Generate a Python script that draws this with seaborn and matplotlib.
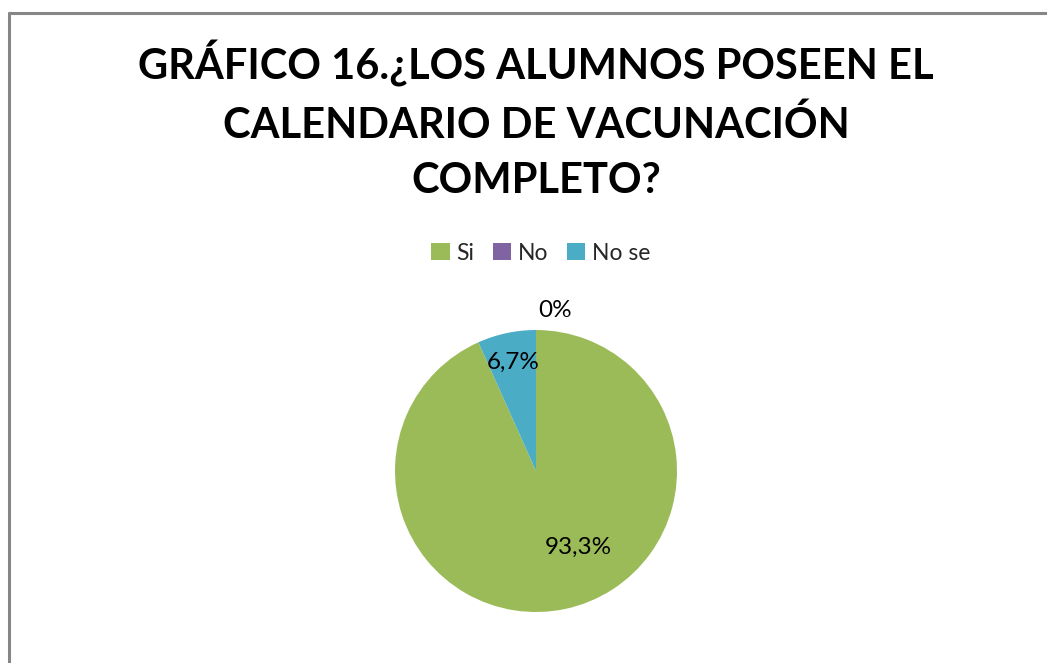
import numpy as np
import matplotlib
matplotlib.use("Agg")
import matplotlib.pyplot as plt
import seaborn as sns
from matplotlib.lines import Line2D
from matplotlib.patches import Patch

# Data
categories = ["Si", "No", "No se"]
values = [93.3, 0.0, 6.7]
value_labels = ["93,3%", "0%", "6,7%"]
title_text = "GRÁFICO 16.¿LOS ALUMNOS POSEEN EL\nCALENDARIO DE VACUNACIÓN\nCOMPLETO?"

colors = ["#9BBB59", "#8064A2", "#4BACC6"]
label_dist = [0.62, 1.15, 0.79]
label_turn = [17, -31, 0]  # degrees, Excel's best-fit nudge

sns.set_theme(style="white")
plt.rcParams['font.family'] = ['Lato', 'DejaVu Sans']

fig = plt.figure(figsize=(10.47, 6.63), dpi=100)
W, H = 1047, 663

# chart frame (only top / left visible in the crop)
fig.add_artist(Line2D([9/W, 9/W], [0, 1 - 13/H], transform=fig.transFigure,
                      color="#868686", lw=2.2))
fig.add_artist(Line2D([9/W, 1], [1 - 13/H, 1 - 13/H], transform=fig.transFigure,
                      color="#868686", lw=2.2))

fig.text(536/W, 1 - 120/H, title_text, ha="center", va="center",
         fontsize=30, fontweight="bold", linespacing=1.56, color="black")

r = 141
ax = fig.add_axes([(536 - r)/W, (663 - 471 - r)/H, 2*r/W, 2*r/H])
wedges, _ = ax.pie(values, colors=colors, startangle=90, counterclock=False,
                   wedgeprops=dict(linewidth=0))
ax.set_xlim(-1, 1)
ax.set_ylim(-1, 1)
ax.set_aspect("equal")
ax.axis("off")

for w, lab, d, t in zip(wedges, value_labels, label_dist, label_turn):
    ang = np.deg2rad((w.theta1 + w.theta2) / 2 + t)
    ax.text(d*np.cos(ang), d*np.sin(ang), lab, ha="center", va="center",
            fontsize=17.5, color="black", clip_on=False)

handles = [Patch(facecolor=c, edgecolor="none") for c in colors]
fig.legend(handles, categories, loc="center", bbox_to_anchor=(541/W, 1 - 253/H),
           ncol=3, frameon=False, fontsize=16.5, handlelength=0.8, handleheight=0.8,
           handletextpad=0.3, columnspacing=0.8)

fig.savefig("out.png", dpi=100)
